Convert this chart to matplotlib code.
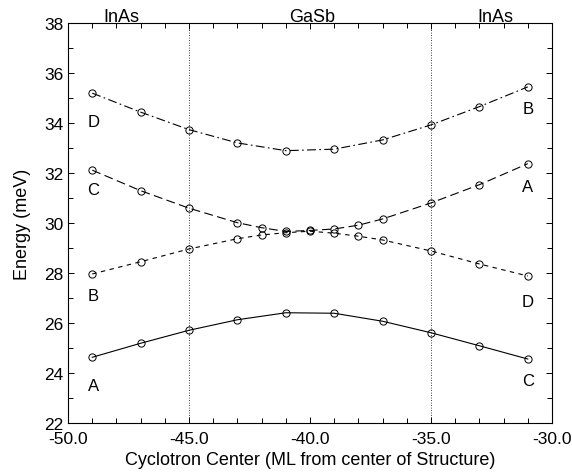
import numpy as np
import matplotlib.pyplot as plt

plt.rcParams['font.family'] = ['Liberation Sans', 'DejaVu Sans']

# Cyclotron centre positions (ML)
x_outer = [-49, -47, -45, -43, -41, -39, -37, -35, -33, -31]
x_inner = [-49, -47, -45, -43, -42, -41, -40, -39, -38, -37, -35, -33, -31]

# Energies (meV)
e_top = [35.19, 34.43, 33.73, 33.20, 32.89, 32.95, 33.32, 33.92, 34.65, 35.44]
e_upper = [32.11, 31.29, 30.59, 30.01, 29.81, 29.66, 29.70, 29.76, 29.91, 30.16, 30.80, 31.53, 32.37]
e_lower = [27.96, 28.45, 28.96, 29.37, 29.52, 29.61, 29.67, 29.59, 29.47, 29.32, 28.88, 28.36, 27.88]
e_bottom = [24.63, 25.19, 25.71, 26.13, 26.41, 26.39, 26.07, 25.61, 25.09, 24.56]

# state labels at both ends
left_labels = ['D', 'C', 'B', 'A']
left_y = [34.05, 31.33, 27.1, 23.5]
right_labels = ['B', 'A', 'D', 'C']
right_y = [34.56, 31.45, 26.87, 23.7]

fig = plt.figure(figsize=(5.72, 4.77), dpi=100)
ax = fig.add_axes([0.119, 0.111, 0.846, 0.839])

mk = dict(marker='o', markersize=5.2, markerfacecolor='none', markeredgecolor='k',
          markeredgewidth=0.7, color='k', linewidth=0.8)
ax.plot(x_outer, e_top, linestyle=(0, (8, 3, 1.5, 3)), **mk)
ax.plot(x_inner, e_upper, linestyle=(0, (8, 4)), **mk)
ax.plot(x_inner, e_lower, linestyle=(0, (4, 4)), **mk)
ax.plot(x_outer, e_bottom, linestyle='-', **mk)

# interface positions
for xv in [-45, -35]:
    ax.axvline(xv, color='k', linestyle=(0, (1, 2)), linewidth=0.6)

for lab, yv in zip(left_labels, left_y):
    ax.text(-48.95, yv, lab, fontsize=12, ha='center', va='center')
for lab, yv in zip(right_labels, right_y):
    ax.text(-30.99, yv, lab, fontsize=12, ha='center', va='center')

for xv, lab in [(-47.8, 'InAs'), (-39.9, 'GaSb'), (-32.35, 'InAs')]:
    ax.text(xv, 38.06, lab, fontsize=13, ha='center', va='baseline')

ax.set_xlim(-50, -30)
ax.set_ylim(22, 38)
ax.set_xticks(np.arange(-50, -29, 5))
ax.set_xticklabels(['%.1f' % v for v in np.arange(-50, -29, 5)])
ax.set_xticks(np.arange(-50, -29, 1), minor=True)
ax.set_yticks(np.arange(22, 39, 2))
ax.set_yticks(np.arange(22, 39, 1), minor=True)
ax.tick_params(which='both', direction='in', top=True, right=True, labelsize=12.5, width=0.7)
ax.tick_params(which='major', length=4.5)
ax.tick_params(which='minor', length=3.5)
ax.tick_params(axis='x', which='major', pad=6)
for s in ax.spines.values():
    s.set_linewidth(0.8)

ax.set_xlabel('Cyclotron Center (ML from center of Structure)', fontsize=13, labelpad=3)
ax.set_ylabel('Energy (meV)', fontsize=13, labelpad=9)

fig.savefig('out.png', dpi=100)
